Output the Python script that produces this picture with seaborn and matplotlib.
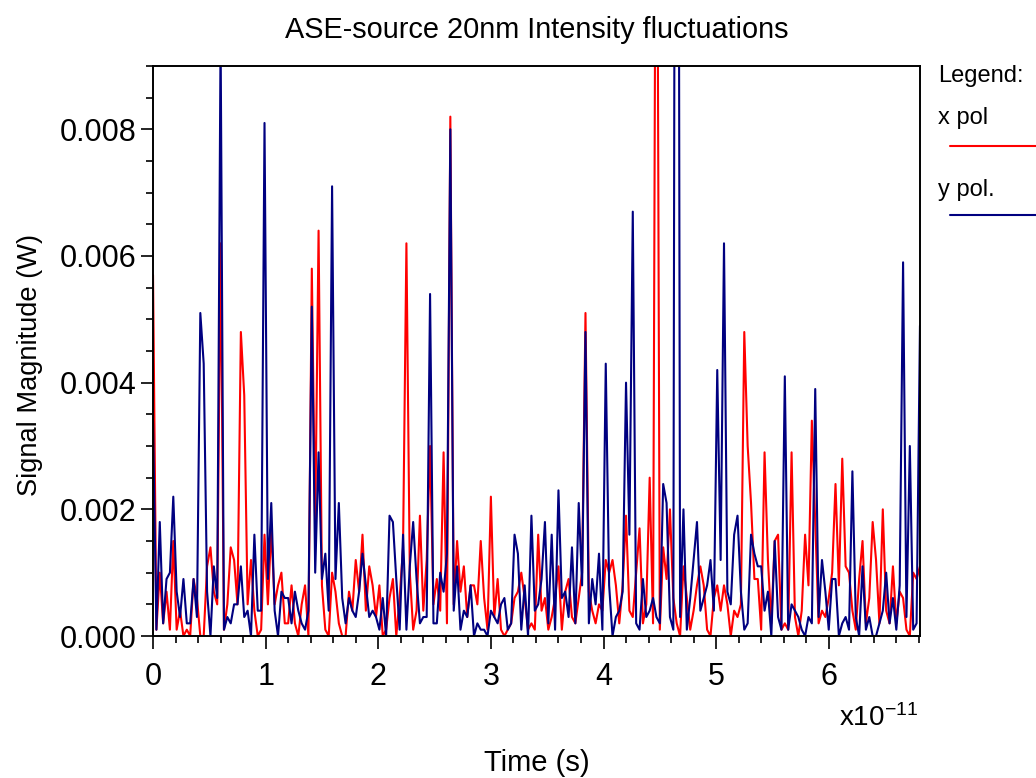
import numpy as np
import pandas as pd
import matplotlib
matplotlib.use("Agg")
import matplotlib.pyplot as plt
from matplotlib.lines import Line2D
from matplotlib.ticker import MultipleLocator
import seaborn as sns

# ========== DATOS (unidades de 1e-4 W) ==========
# muestras cada 0.03e-11 s, de 0 a 6.81e-11 s
x_pol = [57, 1, 10, 2, 7, 1, 15, 1, 4, 0,
         1, 0, 9, 6, 0, 0, 11, 14, 7, 5,
         62, 1, 5, 14, 12, 5, 48, 38, 5, 12,
         4, 0, 1, 16, 5, 17, 5, 8,
         10, 2, 2, 8, 2, 0, 5, 8, 0, 58,
         17, 64, 8, 1, 0, 10, 7, 2, 0, 0,
         7, 4, 12, 7, 16, 4, 11, 8, 3, 8,
         0, 1, 6, 9, 0, 6, 14,
         62, 10, 1, 4, 19, 4, 12, 30, 5, 9,
         4, 29, 2, 82, 5, 15, 7, 11, 3, 8,
         8, 5, 15, 6, 1, 22, 3, 9, 1, 0,
         1, 2, 6, 7, 10, 6, 1,
         2, 1, 16, 4, 6, 1, 3, 6, 11, 1,
         7, 9, 3, 2, 6, 10, 51, 7, 4, 2,
         5, 4, 12, 10, 12, 8, 2, 8, 19, 4,
         3, 10, 17, 2, 5, 25, 2,
         160, 1, 14, 9, 20, 6, 2, 0, 11, 6,
         1, 4, 8, 11, 8, 1, 0, 6, 8, 4,
         8, 5, 0, 4, 3, 5, 48, 30, 21, 9,
         9, 1, 29, 12, 2, 15, 16,
         1, 2, 1, 29, 3, 0, 4, 16, 8, 34,
         18, 2, 4, 3, 6, 10, 24, 8, 28, 11,
         10, 4, 1, 9, 15, 2, 6, 18, 12, 2,
         20, 4, 2, 11, 2, 7, 6, 1, 0, 10, 9, 11]

y_pol = [34, 1, 18, 2, 9, 10, 22, 7, 3, 9,
         2, 2, 9, 3, 51, 43, 7, 0, 11, 6,
         95, 1, 3, 2, 5, 5, 11, 3, 4, 0,
         16, 4, 4, 81, 9, 21, 4, 0,
         7, 6, 6, 2, 7, 4, 2, 1, 4, 52,
         10, 29, 9, 13, 4, 71, 9, 21, 6, 2,
         6, 4, 3, 7, 13, 8, 3, 4, 3, 1,
         6, 0, 19, 18, 9, 1, 16,
         1, 11, 18, 9, 2, 3, 3, 54, 2, 2,
         10, 7, 13, 80, 4, 11, 1, 4, 3, 8,
         0, 2, 1, 1, 0, 4, 3, 2, 5, 6,
         1, 2, 16, 13, 1, 8, 0,
         19, 4, 5, 9, 18, 2, 16, 1, 23, 6,
         7, 3, 14, 2, 21, 8, 48, 2, 9, 5,
         13, 1, 43, 8, 0, 3, 4, 7, 40, 16,
         67, 2, 1, 9, 3, 4, 6,
         3, 2, 24, 21, 3, 1, 300, 3, 20, 1,
         6, 12, 18, 4, 6, 8, 12, 4, 42, 12,
         62, 7, 5, 16, 19, 7, 1, 2, 16, 13,
         11, 11, 4, 7, 0, 15, 3,
         1, 41, 1, 5, 4, 3, 1, 0, 3, 2,
         39, 3, 12, 7, 1, 9, 9, 0, 2, 3,
         1, 26, 3, 0, 11, 1, 3, 0, 0, 2,
         4, 10, 2, 6, 1, 8, 59, 3, 30, 1, 2, 49]

x_ticks = [0, 1, 2, 3, 4, 5, 6]
y_ticks = [0.0, 0.002, 0.004, 0.006, 0.008]

t = np.arange(len(x_pol)) * 0.03e-11
df = pd.DataFrame({"t": t,
                   "x": np.array(x_pol) * 1e-4,
                   "y": np.array(y_pol) * 1e-4})

# ========== ESTILO ==========
sns.set_theme(style="white")
plt.rcParams["font.family"] = ["Liberation Sans", "DejaVu Sans"]
plt.rcParams["mathtext.fontset"] = "custom"
plt.rcParams["mathtext.rm"] = "Liberation Sans"
plt.rcParams["mathtext.it"] = "Liberation Sans:italic"
plt.rcParams["axes.unicode_minus"] = False
for k in ["text.color", "axes.labelcolor", "xtick.color", "ytick.color"]:
    plt.rcParams[k] = "black"

fig = plt.figure(figsize=(10.36, 7.78), dpi=100)
ax = fig.add_axes([0.1477, 0.1825, 0.7403, 0.7327])

sns.lineplot(data=df, x="t", y="x", ax=ax, color="#ff0000", linewidth=1.5)
sns.lineplot(data=df, x="t", y="y", ax=ax, color="#000080", linewidth=1.5)

ax.set_xlim(0, 6.81e-11)
ax.set_ylim(0, 0.009)
ax.set_xticks([v * 1e-11 for v in x_ticks])
ax.set_xticklabels([str(v) for v in x_ticks])
ax.xaxis.set_minor_locator(MultipleLocator(0.2e-11))
ax.set_yticks(y_ticks)
ax.set_yticklabels([f"{v:.3f}" for v in y_ticks])
ax.yaxis.set_minor_locator(MultipleLocator(0.0005))
ax.set_xlabel("")
ax.set_ylabel("")

ax.tick_params(which="both", direction="out", color="black", width=1.2,
               bottom=True, left=True, top=False, right=False)
ax.tick_params(which="major", length=9, labelsize=22)
ax.tick_params(which="minor", length=5)
ax.tick_params(axis="x", which="major", pad=10)
ax.tick_params(axis="y", which="major", pad=3)
for s in ax.spines.values():
    s.set_color("black")
    s.set_linewidth(1.4)

# ========== TEXTOS ==========
fig.text(0.518, 0.961, "ASE-source 20nm Intensity fluctuations",
         ha="center", va="center", fontsize=20.8)
fig.text(0.029, 0.531, "Signal Magnitude (W)", rotation=90,
         ha="center", va="center", fontsize=19.6)
fig.text(0.518, 0.019, "Time (s)", ha="center", va="center", fontsize=21)
fig.text(0.848, 0.077, r"x10$^{-11}$", ha="center", va="center", fontsize=20)

# leyenda
fig.text(0.9054, 0.902, "Legend:", ha="left", va="center", fontsize=17)
fig.text(0.9054, 0.848, "x pol", ha="left", va="center", fontsize=17)
fig.add_artist(Line2D([0.917, 1.0], [0.8123, 0.8123], color="#ff0000", lw=1.5))
fig.text(0.9054, 0.756, "y pol.", ha="left", va="center", fontsize=17)
fig.add_artist(Line2D([0.917, 1.0], [0.7237, 0.7237], color="#000080", lw=1.5))

plt.savefig("out.png", dpi=100)
